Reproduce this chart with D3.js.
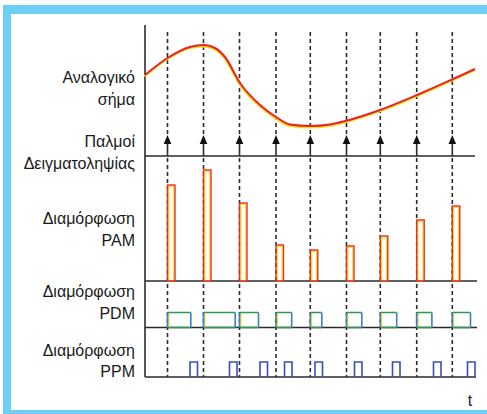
<!DOCTYPE html>
<html><head><meta charset="utf-8">
<script src="https://cdn.jsdelivr.net/npm/d3@7"></script>
<style>html,body{margin:0;padding:0;background:#fff;}svg{display:block;}</style>
</head><body>
<svg id="chart" width="487" height="414"></svg>
<script>
// ---- data (time units along the horizontal axis) ----
const sampleTimes = [22.5, 58.5, 94.5, 131, 165.3, 201.5, 235.3, 271.7, 307.3];
const analogT = [0, 22.5, 45, 59, 70, 80, 95, 115, 131, 145, 165, 185, 201.5, 235, 272, 307, 330];
const analogA = [55, 72, 83, 85, 82, 73, 47, 25, 13, 5.5, 4, 5.5, 9.3, 20, 35, 50.5, 61];
const pamValues = [96, 111, 78, 36, 31, 35, 45, 61, 75];
const pdmWidths = [23.3, 31.7, 19, 15.7, 11.5, 15.3, 16.4, 15.2, 18.2];
const ppmStarts = [45, 84.5, 115, 139.5, 170, 209.5, 247.5, 288.5, 322.5];
const labelLines = [["Αναλογικό","σήμα"],["Παλμοί","Δειγματοληψίας"],["Διαμόρφωση","PAM"],["Διαμόρφωση","PDM"],["Διαμόρφωση","PPM"]];
const axisLabel = "t";

// ---- layout ----
const svg = d3.select("#chart");
const x = d3.scaleLinear().domain([0, 330]).range([145, 475]);
const ySig = d3.scaleLinear().domain([0, 100]).range([130, 30]);
const yPam = d3.scaleLinear().domain([0, 120]).range([281, 161]);
const pamW = 7.5, ppmW = 7.5;
const base = {samp:156, pam:281, pdm:327.5, ppm:377};
const pdmTop = 312.5, ppmTop = 362;
const ink = "#2b2b2b";
const blue = "#6dcff6";

// frame
svg.append("rect").attr("x",3).attr("y",5).attr("width",484).attr("height",9).attr("fill",blue);
svg.append("rect").attr("x",3).attr("y",5).attr("width",8).attr("height",409).attr("fill",blue);
svg.append("rect").attr("x",3).attr("y",410).attr("width",484).attr("height",4).attr("fill",blue);

// labels
const labelBase = [[83,104.5],[147,168.5],[224,245.5],[297,318.5],[355.5,377]];
labelLines.forEach((lines,i)=>{
  lines.forEach((t,j)=>{
    svg.append("text").attr("x",135).attr("y",labelBase[i][j]).attr("text-anchor","end")
      .attr("font-family","Liberation Sans, Arial, sans-serif").attr("font-size",16).attr("fill","#1a1a1a").text(t);
  });
});
svg.append("text").attr("x",470).attr("y",406).attr("text-anchor","middle")
  .attr("font-family","Liberation Sans, Arial, sans-serif").attr("font-size",16).attr("fill","#1a1a1a").text(axisLabel);

// dashed sample lines
const g = svg.append("g");
sampleTimes.forEach(t=>{
  const xx = x(t);
  g.append("line").attr("x1",xx).attr("x2",xx).attr("y1",32).attr("y2",136)
    .attr("stroke",ink).attr("stroke-width",1.6).attr("stroke-dasharray","4,3");
  g.append("line").attr("x1",xx).attr("x2",xx).attr("y1",142).attr("y2",base.samp)
    .attr("stroke",ink).attr("stroke-width",1.6);
  g.append("path").attr("d",`M${xx},135 L${xx-3.8},144 L${xx+3.8},144 Z`).attr("fill","#111");
  g.append("line").attr("x1",xx).attr("x2",xx).attr("y1",base.samp+2).attr("y2",base.ppm)
    .attr("stroke",ink).attr("stroke-width",1.6).attr("stroke-dasharray","4,3");
});

// axis & baselines
svg.append("line").attr("x1",x(0)).attr("x2",x(0)).attr("y1",25).attr("y2",base.ppm).attr("stroke",ink).attr("stroke-width",1.6);
[[base.samp,475],[base.pam,477],[base.pdm,477],[base.ppm,476]].forEach(([y,xe])=>{
  svg.append("line").attr("x1",x(0)).attr("x2",xe).attr("y1",y).attr("y2",y).attr("stroke",ink).attr("stroke-width",1.6);
});

// analog signal
const pts = analogT.map((t,i)=>[t, analogA[i]]);
const line = d3.line().x(d=>x(d[0])).y(d=>ySig(d[1])).curve(d3.curveMonotoneX);
svg.append("path").attr("d",line(pts)).attr("fill","none").attr("stroke","#f2e21a").attr("stroke-width",2.2).attr("transform","translate(-0.5,1.3)");
svg.append("path").attr("d",line(pts)).attr("fill","none").attr("stroke","#e8222b").attr("stroke-width",2);

// PAM
sampleTimes.forEach((t,i)=>{
  const x0 = x(t), y0 = yPam(pamValues[i]);
  svg.append("rect").attr("x",x0+1.3).attr("y",y0+1.3).attr("width",pamW-2.6).attr("height",base.pam-y0-1.3)
    .attr("fill","none").attr("stroke","#f4e41c").attr("stroke-width",1.2);
  svg.append("rect").attr("x",x0).attr("y",y0).attr("width",pamW).attr("height",base.pam-y0)
    .attr("fill","none").attr("stroke","#ec2a2a").attr("stroke-width",1.4);
});

// PDM
sampleTimes.forEach((t,i)=>{
  const x0 = x(t), x1 = x(t+pdmWidths[i]);
  svg.append("line").attr("x1",x0+1.4).attr("x2",x0+1.4).attr("y1",pdmTop+1).attr("y2",base.pdm).attr("stroke","#f0e21c").attr("stroke-width",1.2);
  svg.append("path").attr("d",`M${x0},${pdmTop} L${x1},${pdmTop} M${x0},${base.pdm} L${x1},${base.pdm}`)
    .attr("fill","none").attr("stroke","#2f9a48").attr("stroke-width",1.6);
  svg.append("path").attr("d",`M${x0},${base.pdm} L${x0},${pdmTop} M${x1},${pdmTop} L${x1},${base.pdm}`)
    .attr("fill","none").attr("stroke","#3a7fd0").attr("stroke-width",1.6);
});

// PPM
ppmStarts.forEach(t=>{
  const x0 = x(t), x1 = x(t+ppmW);
  svg.append("path").attr("d",`M${x0},${base.ppm} L${x0},${ppmTop} L${x1},${ppmTop} L${x1},${base.ppm}`)
    .attr("fill","none").attr("stroke","#3a4cc0").attr("stroke-width",1.6);
});
</script>
</body></html>
